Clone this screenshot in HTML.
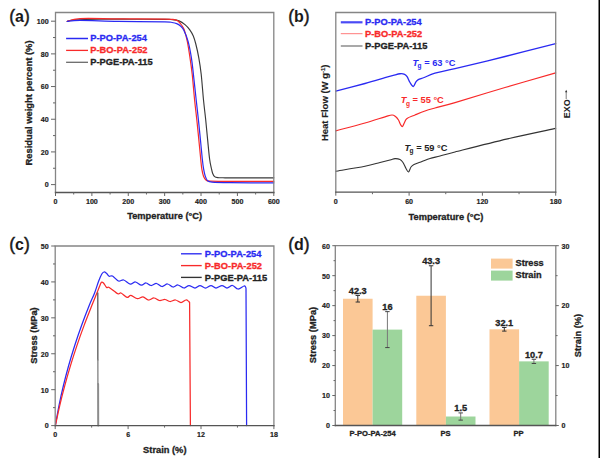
<!DOCTYPE html>
<html><head><meta charset="utf-8"><style>
html,body{margin:0;padding:0;background:#fff;}
svg{display:block;font-family:"Liberation Sans", sans-serif;}
#wrap{width:600px;height:458px;overflow:hidden;}
</style></head><body>
<div id="wrap">
<svg width="600" height="458" viewBox="0 0 600 458">
<rect width="600" height="458" fill="#fff"/>
<text x="9.20" y="21.60" font-size="17" fill="#1a1a1a"><tspan font-size="17.5" stroke="#1a1a1a" stroke-width="0.45">(</tspan><tspan font-weight="bold" font-size="16">a</tspan><tspan font-size="17.5" stroke="#1a1a1a" stroke-width="0.45">)</tspan></text>
<path d="M67.20,21.30 C68.50,21.05 69.53,20.15 75.00,19.80 C80.47,19.45 90.83,19.30 100.00,19.20 C109.17,19.10 119.17,19.17 130.00,19.20 C140.83,19.23 158.00,19.33 165.00,19.40 C172.00,19.47 169.67,19.35 172.00,19.60 C174.33,19.85 176.83,20.07 179.00,20.90 C181.17,21.73 183.20,23.12 185.00,24.60 C186.80,26.08 188.42,27.90 189.80,29.80 C191.18,31.70 192.30,33.63 193.30,36.00 C194.30,38.37 194.88,40.37 195.80,44.00 C196.72,47.63 197.90,52.77 198.80,57.80 C199.70,62.83 200.42,67.17 201.20,74.20 C201.98,81.23 202.75,92.42 203.50,100.00 C204.25,107.58 205.02,113.13 205.70,119.70 C206.38,126.27 206.95,132.85 207.60,139.40 C208.25,145.95 208.98,154.23 209.60,159.00 C210.22,163.77 210.80,165.63 211.30,168.00 C211.80,170.37 212.05,171.77 212.60,173.20 C213.15,174.63 213.70,175.87 214.60,176.60 C215.50,177.33 216.27,177.40 218.00,177.60 C219.73,177.80 215.70,177.77 225.00,177.80 C234.30,177.83 265.67,177.80 273.80,177.80" fill="none" stroke="#3a3a3a" stroke-width="1.15" stroke-linejoin="round" stroke-linecap="round" />
<path d="M67.20,21.30 C69.33,20.85 71.53,19.02 80.00,18.60 C88.47,18.18 103.83,18.72 118.00,18.80 C132.17,18.88 155.67,18.97 165.00,19.10 C174.33,19.23 171.83,19.28 174.00,19.60 C176.17,19.92 176.75,20.10 178.00,21.00 C179.25,21.90 180.45,23.50 181.50,25.00 C182.55,26.50 183.33,27.27 184.30,30.00 C185.27,32.73 186.35,36.77 187.30,41.40 C188.25,46.03 189.18,52.33 190.00,57.80 C190.82,63.27 191.43,67.17 192.20,74.20 C192.97,81.23 193.83,92.42 194.60,100.00 C195.37,107.58 196.10,113.13 196.80,119.70 C197.50,126.27 198.15,132.85 198.80,139.40 C199.45,145.95 200.20,154.08 200.70,159.00 C201.20,163.92 201.33,166.02 201.80,168.90 C202.27,171.78 202.80,174.45 203.50,176.30 C204.20,178.15 204.92,179.18 206.00,180.00 C207.08,180.82 206.00,180.98 210.00,181.20 C214.00,181.42 219.37,181.28 230.00,181.30 C240.63,181.32 266.50,181.30 273.80,181.30" fill="none" stroke="#f82a2a" stroke-width="1.20" stroke-linejoin="round" stroke-linecap="round" />
<path d="M67.20,21.30 C69.33,21.15 71.53,20.40 80.00,20.40 C88.47,20.40 103.83,21.05 118.00,21.30 C132.17,21.55 156.00,21.70 165.00,21.90 C174.00,22.10 170.05,22.22 172.00,22.50 C173.95,22.78 175.28,23.02 176.70,23.60 C178.12,24.18 179.33,24.93 180.50,26.00 C181.67,27.07 182.43,27.43 183.70,30.00 C184.97,32.57 186.82,36.77 188.10,41.40 C189.38,46.03 190.52,52.33 191.40,57.80 C192.28,63.27 192.60,67.17 193.40,74.20 C194.20,81.23 195.37,92.42 196.20,100.00 C197.03,107.58 197.70,113.13 198.40,119.70 C199.10,126.27 199.75,132.85 200.40,139.40 C201.05,145.95 201.77,154.08 202.30,159.00 C202.83,163.92 203.12,166.07 203.60,168.90 C204.08,171.73 204.55,174.05 205.20,176.00 C205.85,177.95 206.37,179.57 207.50,180.60 C208.63,181.63 208.25,181.85 212.00,182.20 C215.75,182.55 219.70,182.60 230.00,182.70 C240.30,182.80 266.50,182.78 273.80,182.80" fill="none" stroke="#2a2af2" stroke-width="1.20" stroke-linejoin="round" stroke-linecap="round" />
<path d="M55.50,192.50 L55.50,12.50 L273.80,12.50 L273.80,192.50" fill="none" stroke="#858585" stroke-width="1.30" stroke-linecap="square"/>
<line x1="55.50" y1="192.50" x2="273.80" y2="192.50" stroke="#555" stroke-width="1.30" stroke-linecap="square"/>
<line x1="51.00" y1="184.60" x2="55.50" y2="184.60" stroke="#666666" stroke-width="1.00" />
<text x="48.60" y="187.46" font-size="8" text-anchor="end" font-weight="bold" fill="#222" stroke="#222" stroke-width="0.2" textLength="3.95" lengthAdjust="spacingAndGlyphs">0</text>
<line x1="51.00" y1="151.92" x2="55.50" y2="151.92" stroke="#666666" stroke-width="1.00" />
<text x="48.60" y="154.78" font-size="8" text-anchor="end" font-weight="bold" fill="#222" stroke="#222" stroke-width="0.2" textLength="7.90" lengthAdjust="spacingAndGlyphs">20</text>
<line x1="51.00" y1="119.24" x2="55.50" y2="119.24" stroke="#666666" stroke-width="1.00" />
<text x="48.60" y="122.10" font-size="8" text-anchor="end" font-weight="bold" fill="#222" stroke="#222" stroke-width="0.2" textLength="7.90" lengthAdjust="spacingAndGlyphs">40</text>
<line x1="51.00" y1="86.56" x2="55.50" y2="86.56" stroke="#666666" stroke-width="1.00" />
<text x="48.60" y="89.42" font-size="8" text-anchor="end" font-weight="bold" fill="#222" stroke="#222" stroke-width="0.2" textLength="7.90" lengthAdjust="spacingAndGlyphs">60</text>
<line x1="51.00" y1="53.88" x2="55.50" y2="53.88" stroke="#666666" stroke-width="1.00" />
<text x="48.60" y="56.74" font-size="8" text-anchor="end" font-weight="bold" fill="#222" stroke="#222" stroke-width="0.2" textLength="7.90" lengthAdjust="spacingAndGlyphs">80</text>
<line x1="51.00" y1="21.20" x2="55.50" y2="21.20" stroke="#666666" stroke-width="1.00" />
<text x="48.60" y="24.06" font-size="8" text-anchor="end" font-weight="bold" fill="#222" stroke="#222" stroke-width="0.2" textLength="11.84" lengthAdjust="spacingAndGlyphs">100</text>
<line x1="53.00" y1="168.26" x2="55.50" y2="168.26" stroke="#666666" stroke-width="1.00" />
<line x1="53.00" y1="135.58" x2="55.50" y2="135.58" stroke="#666666" stroke-width="1.00" />
<line x1="53.00" y1="102.90" x2="55.50" y2="102.90" stroke="#666666" stroke-width="1.00" />
<line x1="53.00" y1="70.22" x2="55.50" y2="70.22" stroke="#666666" stroke-width="1.00" />
<line x1="53.00" y1="37.54" x2="55.50" y2="37.54" stroke="#666666" stroke-width="1.00" />
<line x1="55.50" y1="192.50" x2="55.50" y2="196.00" stroke="#666666" stroke-width="1.00" />
<text x="55.50" y="204.36" font-size="8" text-anchor="middle" font-weight="bold" fill="#222" stroke="#222" stroke-width="0.2" textLength="3.95" lengthAdjust="spacingAndGlyphs">0</text>
<line x1="91.88" y1="192.50" x2="91.88" y2="196.00" stroke="#666666" stroke-width="1.00" />
<text x="91.88" y="204.36" font-size="8" text-anchor="middle" font-weight="bold" fill="#222" stroke="#222" stroke-width="0.2" textLength="11.84" lengthAdjust="spacingAndGlyphs">100</text>
<line x1="128.27" y1="192.50" x2="128.27" y2="196.00" stroke="#666666" stroke-width="1.00" />
<text x="128.27" y="204.36" font-size="8" text-anchor="middle" font-weight="bold" fill="#222" stroke="#222" stroke-width="0.2" textLength="11.84" lengthAdjust="spacingAndGlyphs">200</text>
<line x1="164.65" y1="192.50" x2="164.65" y2="196.00" stroke="#666666" stroke-width="1.00" />
<text x="164.65" y="204.36" font-size="8" text-anchor="middle" font-weight="bold" fill="#222" stroke="#222" stroke-width="0.2" textLength="11.84" lengthAdjust="spacingAndGlyphs">300</text>
<line x1="201.03" y1="192.50" x2="201.03" y2="196.00" stroke="#666666" stroke-width="1.00" />
<text x="201.03" y="204.36" font-size="8" text-anchor="middle" font-weight="bold" fill="#222" stroke="#222" stroke-width="0.2" textLength="11.84" lengthAdjust="spacingAndGlyphs">400</text>
<line x1="237.42" y1="192.50" x2="237.42" y2="196.00" stroke="#666666" stroke-width="1.00" />
<text x="237.42" y="204.36" font-size="8" text-anchor="middle" font-weight="bold" fill="#222" stroke="#222" stroke-width="0.2" textLength="11.84" lengthAdjust="spacingAndGlyphs">500</text>
<line x1="273.80" y1="192.50" x2="273.80" y2="196.00" stroke="#666666" stroke-width="1.00" />
<text x="273.80" y="204.36" font-size="8" text-anchor="middle" font-weight="bold" fill="#222" stroke="#222" stroke-width="0.2" textLength="11.84" lengthAdjust="spacingAndGlyphs">600</text>
<line x1="73.69" y1="192.50" x2="73.69" y2="194.50" stroke="#666666" stroke-width="1.00" />
<line x1="110.08" y1="192.50" x2="110.08" y2="194.50" stroke="#666666" stroke-width="1.00" />
<line x1="146.46" y1="192.50" x2="146.46" y2="194.50" stroke="#666666" stroke-width="1.00" />
<line x1="182.84" y1="192.50" x2="182.84" y2="194.50" stroke="#666666" stroke-width="1.00" />
<line x1="219.22" y1="192.50" x2="219.22" y2="194.50" stroke="#666666" stroke-width="1.00" />
<line x1="255.61" y1="192.50" x2="255.61" y2="194.50" stroke="#666666" stroke-width="1.00" />
<text x="164.60" y="219.40" font-size="9.30" text-anchor="middle" font-weight="bold" fill="#222" stroke="#222" stroke-width="0.3" >Temperature (°C)</text>
<text x="0.00" y="0.00" font-size="9.40" text-anchor="middle" font-weight="bold" fill="#222" stroke="#222" stroke-width="0.3" transform="translate(32,103) rotate(-90)">Residual weight percent (%)</text>
<line x1="66.10" y1="38.50" x2="88.00" y2="38.50" stroke="#2a2af2" stroke-width="1.50" />
<text x="90.30" y="41.40" font-size="9.30" text-anchor="start" font-weight="bold" fill="#2a2af2" stroke="#2a2af2" stroke-width="0.3" >P-PO-PA-254</text>
<line x1="66.10" y1="50.40" x2="88.00" y2="50.40" stroke="#f82a2a" stroke-width="1.30" />
<text x="90.30" y="53.30" font-size="9.30" text-anchor="start" font-weight="bold" fill="#f82a2a" stroke="#f82a2a" stroke-width="0.3" >P-BO-PA-252</text>
<line x1="66.10" y1="62.30" x2="88.00" y2="62.30" stroke="#6a6a6a" stroke-width="1.30" />
<text x="90.30" y="65.20" font-size="9.30" text-anchor="start" font-weight="bold" fill="#222" stroke="#222" stroke-width="0.3" >P-PGE-PA-115</text>
<text x="288.20" y="21.60" font-size="17" fill="#1a1a1a"><tspan font-size="17.5" stroke="#1a1a1a" stroke-width="0.45">(</tspan><tspan font-weight="bold" font-size="16">b</tspan><tspan font-size="17.5" stroke="#1a1a1a" stroke-width="0.45">)</tspan></text>
<path d="M335.80,91.20 C340.67,89.92 356.80,85.75 365.00,83.50 C373.20,81.25 380.28,79.05 385.00,77.70 C389.72,76.35 390.80,76.06 393.30,75.40 C395.80,74.74 398.12,73.93 400.00,73.75 C401.88,73.57 403.42,73.81 404.60,74.30 C405.78,74.79 406.20,75.33 407.10,76.70 C408.00,78.07 408.97,80.87 410.00,82.50 C411.03,84.13 412.33,86.57 413.30,86.50 C414.27,86.43 414.97,83.25 415.80,82.10 C416.63,80.95 416.90,80.37 418.30,79.60 C419.70,78.83 421.42,78.57 424.20,77.50 C426.98,76.43 429.87,74.67 435.00,73.20 C440.13,71.73 443.33,71.48 455.00,68.70 C466.67,65.92 488.22,60.67 505.00,56.50 C521.78,52.33 547.25,45.83 555.70,43.70" fill="none" stroke="#2a2af2" stroke-width="1.30" stroke-linejoin="round" stroke-linecap="round" />
<path d="M335.80,130.80 C340.67,129.50 356.80,125.33 365.00,123.00 C373.20,120.67 380.50,118.13 385.00,116.80 C389.50,115.47 390.25,115.05 392.00,115.00 C393.75,114.95 394.42,115.67 395.50,116.50 C396.58,117.33 397.67,118.67 398.50,120.00 C399.33,121.33 399.83,123.42 400.50,124.50 C401.17,125.58 401.83,126.83 402.50,126.50 C403.17,126.17 403.75,123.83 404.50,122.50 C405.25,121.17 405.25,119.75 407.00,118.50 C408.75,117.25 412.00,116.25 415.00,115.00 C418.00,113.75 421.67,112.17 425.00,111.00 C428.33,109.83 430.00,109.40 435.00,108.00 C440.00,106.60 443.33,106.02 455.00,102.60 C466.67,99.18 488.22,92.45 505.00,87.50 C521.78,82.55 547.25,75.33 555.70,72.90" fill="none" stroke="#f82a2a" stroke-width="1.20" stroke-linejoin="round" stroke-linecap="round" />
<path d="M335.80,171.20 C340.67,170.38 357.63,167.75 365.00,166.30 C372.37,164.85 375.83,163.55 380.00,162.50 C384.17,161.45 387.50,160.65 390.00,160.00 C392.50,159.35 393.33,158.68 395.00,158.60 C396.67,158.52 398.67,158.85 400.00,159.50 C401.33,160.15 402.00,161.00 403.00,162.50 C404.00,164.00 405.08,166.92 406.00,168.50 C406.92,170.08 407.67,172.25 408.50,172.00 C409.33,171.75 410.08,168.25 411.00,167.00 C411.92,165.75 412.17,165.42 414.00,164.50 C415.83,163.58 419.33,162.50 422.00,161.50 C424.67,160.50 427.00,159.42 430.00,158.50 C433.00,157.58 435.83,157.08 440.00,156.00 C444.17,154.92 443.75,154.85 455.00,152.00 C466.25,149.15 490.72,142.83 507.50,138.90 C524.28,134.97 547.67,130.15 555.70,128.40" fill="none" stroke="#333333" stroke-width="1.10" stroke-linejoin="round" stroke-linecap="round" />
<path d="M335.80,192.20 L335.80,12.50 L555.70,12.50 L555.70,192.20" fill="none" stroke="#858585" stroke-width="1.30" stroke-linecap="square"/>
<line x1="335.80" y1="192.20" x2="555.70" y2="192.20" stroke="#555" stroke-width="1.30" stroke-linecap="square"/>
<line x1="335.80" y1="192.20" x2="335.80" y2="195.70" stroke="#666666" stroke-width="1.00" />
<text x="335.80" y="204.46" font-size="8" text-anchor="middle" font-weight="bold" fill="#222" stroke="#222" stroke-width="0.2" textLength="3.95" lengthAdjust="spacingAndGlyphs">0</text>
<line x1="409.10" y1="192.20" x2="409.10" y2="195.70" stroke="#666666" stroke-width="1.00" />
<text x="409.10" y="204.46" font-size="8" text-anchor="middle" font-weight="bold" fill="#222" stroke="#222" stroke-width="0.2" textLength="7.90" lengthAdjust="spacingAndGlyphs">60</text>
<line x1="482.40" y1="192.20" x2="482.40" y2="195.70" stroke="#666666" stroke-width="1.00" />
<text x="482.40" y="204.46" font-size="8" text-anchor="middle" font-weight="bold" fill="#222" stroke="#222" stroke-width="0.2" textLength="11.84" lengthAdjust="spacingAndGlyphs">120</text>
<line x1="555.70" y1="192.20" x2="555.70" y2="195.70" stroke="#666666" stroke-width="1.00" />
<text x="555.70" y="204.46" font-size="8" text-anchor="middle" font-weight="bold" fill="#222" stroke="#222" stroke-width="0.2" textLength="11.84" lengthAdjust="spacingAndGlyphs">180</text>
<line x1="372.45" y1="192.20" x2="372.45" y2="194.20" stroke="#666666" stroke-width="1.00" />
<line x1="445.75" y1="192.20" x2="445.75" y2="194.20" stroke="#666666" stroke-width="1.00" />
<line x1="519.05" y1="192.20" x2="519.05" y2="194.20" stroke="#666666" stroke-width="1.00" />
<text x="445.90" y="219.60" font-size="9.30" text-anchor="middle" font-weight="bold" fill="#222" stroke="#222" stroke-width="0.3" >Temperature (°C)</text>
<text transform="translate(328.2,102.8) rotate(-90)" font-size="9.5" text-anchor="middle" font-weight="bold" fill="#222" stroke="#222" stroke-width="0.15">Heat Flow (W g<tspan font-size="6" dy="-3.5">-1</tspan><tspan dy="3.5">)</tspan></text>
<text transform="translate(569.5,118.3) rotate(-90)" font-size="9" text-anchor="start" font-weight="bold" fill="#222">EXO</text>
<line x1="566.20" y1="99.00" x2="566.20" y2="91.00" stroke="#444" stroke-width="0.70" />
<path d="M565.1,92.2 L566.2,89.8 L567.3,92.2 Z" fill="#333"/>
<line x1="340.80" y1="22.30" x2="362.50" y2="22.30" stroke="#4a4af5" stroke-width="2.20" />
<text x="365.00" y="25.00" font-size="9.30" text-anchor="start" font-weight="bold" fill="#2a2af2" stroke="#2a2af2" stroke-width="0.3" >P-PO-PA-254</text>
<line x1="340.80" y1="33.70" x2="362.50" y2="33.70" stroke="#ff7a7a" stroke-width="1.00" />
<text x="365.00" y="37.05" font-size="9.30" text-anchor="start" font-weight="bold" fill="#f82a2a" stroke="#f82a2a" stroke-width="0.3" >P-BO-PA-252</text>
<line x1="340.80" y1="46.00" x2="362.50" y2="46.00" stroke="#7a7a7a" stroke-width="1.30" />
<text x="365.00" y="49.10" font-size="9.30" text-anchor="start" font-weight="bold" fill="#222" stroke="#222" stroke-width="0.3" >P-PGE-PA-115</text>
<text x="412.50" y="65.50" font-size="9.30" font-weight="bold" fill="#2a2af2"><tspan font-style="italic">T</tspan><tspan font-size="6.5" dx="-0.6" dy="2.4">g</tspan><tspan dy="-2.4"> = 63 °C</tspan></text>
<text x="400.80" y="103.20" font-size="9.30" font-weight="bold" fill="#f82a2a"><tspan font-style="italic">T</tspan><tspan font-size="6.5" dx="-0.6" dy="2.4">g</tspan><tspan dy="-2.4"> = 55 °C</tspan></text>
<text x="404.50" y="150.60" font-size="9.30" font-weight="bold" fill="#222"><tspan font-style="italic">T</tspan><tspan font-size="6.5" dx="-0.6" dy="2.4">g</tspan><tspan dy="-2.4"> = 59 °C</tspan></text>
<text x="9.20" y="250.10" font-size="17" fill="#1a1a1a"><tspan font-size="17.5" stroke="#1a1a1a" stroke-width="0.45">(</tspan><tspan font-weight="bold" font-size="16">c</tspan><tspan font-size="17.5" stroke="#1a1a1a" stroke-width="0.45">)</tspan></text>
<path d="M55.35,425.50 C55.96,422.17 57.65,412.17 58.99,405.50 C60.34,398.83 61.82,392.17 63.44,385.50 C65.05,378.83 66.80,372.17 68.68,365.50 C70.56,358.83 72.57,352.17 74.72,345.50 C76.87,338.83 79.15,332.17 81.56,325.50 C83.97,318.83 87.03,310.92 89.20,305.50 C91.37,300.08 93.05,297.00 94.60,293.00 C96.15,289.00 97.30,284.67 98.50,281.50 C99.70,278.33 100.88,275.58 101.80,274.00 C102.72,272.42 103.22,272.12 104.00,272.00 C104.78,271.88 105.63,272.60 106.50,273.30 C107.37,274.00 108.20,275.75 109.20,276.20 C110.20,276.65 110.97,275.20 112.50,276.00 C114.03,276.80 116.53,280.33 118.40,281.00 C120.27,281.67 121.73,279.47 123.70,280.00 C125.67,280.53 128.23,283.87 130.20,284.20 C132.17,284.53 133.63,281.83 135.50,282.00 C137.37,282.17 139.65,285.03 141.40,285.20 C143.15,285.37 144.40,282.95 146.00,283.00 C147.60,283.05 149.25,285.42 151.00,285.50 C152.75,285.58 154.67,283.33 156.50,283.50 C158.33,283.67 160.17,286.42 162.00,286.50 C163.83,286.58 165.67,283.92 167.50,284.00 C169.33,284.08 171.25,286.83 173.00,287.00 C174.75,287.17 176.17,284.83 178.00,285.00 C179.83,285.17 182.17,287.92 184.00,288.00 C185.83,288.08 187.17,285.50 189.00,285.50 C190.83,285.50 193.17,288.00 195.00,288.00 C196.83,288.00 198.25,285.50 200.00,285.50 C201.75,285.50 203.67,288.00 205.50,288.00 C207.33,288.00 209.25,285.50 211.00,285.50 C212.75,285.50 214.17,288.00 216.00,288.00 C217.83,288.00 220.17,285.50 222.00,285.50 C223.83,285.50 225.25,288.00 227.00,288.00 C228.75,288.00 230.67,285.33 232.50,285.50 C234.33,285.67 236.08,288.92 238.00,289.00 C239.92,289.08 242.70,286.25 244.00,286.00 C245.30,285.75 245.50,287.25 245.80,287.50 L246,288.5 L246.6,425.6" fill="none" stroke="#2a2af2" stroke-width="1.25" stroke-linejoin="round" stroke-linecap="round" />
<path d="M55.40,425.60 C56.12,422.27 58.17,412.27 59.73,405.60 C61.29,398.93 62.97,392.27 64.76,385.60 C66.55,378.93 68.46,372.27 70.48,365.60 C72.51,358.93 74.64,352.27 76.90,345.60 C79.15,338.93 81.52,332.27 84.01,325.60 C86.50,318.93 89.73,310.87 91.82,305.60 C93.90,300.33 95.22,297.18 96.50,294.00 C97.78,290.82 98.68,288.45 99.50,286.50 C100.32,284.55 100.73,282.88 101.40,282.30 C102.07,281.72 102.63,282.13 103.50,283.00 C104.37,283.87 105.65,286.75 106.60,287.50 C107.55,288.25 107.33,286.45 109.20,287.50 C111.07,288.55 115.83,292.88 117.80,293.80 C119.77,294.72 119.47,292.40 121.00,293.00 C122.53,293.60 125.35,297.00 127.00,297.40 C128.65,297.80 129.17,295.18 130.90,295.40 C132.63,295.62 135.38,298.47 137.40,298.70 C139.42,298.93 141.15,296.58 143.00,296.80 C144.85,297.02 146.67,299.80 148.50,300.00 C150.33,300.20 152.17,297.92 154.00,298.00 C155.83,298.08 157.67,300.25 159.50,300.50 C161.33,300.75 163.25,299.33 165.00,299.50 C166.75,299.67 168.25,301.42 170.00,301.50 C171.75,301.58 173.67,299.83 175.50,300.00 C177.33,300.17 179.25,302.50 181.00,302.50 C182.75,302.50 184.70,300.17 186.00,300.00 C187.30,299.83 188.33,301.25 188.80,301.50 L189.6,302.5 L190.4,425.6" fill="none" stroke="#f82a2a" stroke-width="1.25" stroke-linejoin="round" stroke-linecap="round" />
<path d="M97.8,293 L97.85,360" fill="none" stroke="#555555" stroke-width="1.30" stroke-linejoin="round" stroke-linecap="round" />
<path d="M97.85,360 L97.9,384" fill="none" stroke="#8a8a8a" stroke-width="1.40" stroke-linejoin="round" stroke-linecap="round" />
<path d="M98.1,384 L98.2,425.6" fill="none" stroke="#8c8c8c" stroke-width="2.00" stroke-linejoin="round" stroke-linecap="round" />
<path d="M55.20,425.60 L55.20,246.00 L273.90,246.00 L273.90,425.60" fill="none" stroke="#858585" stroke-width="1.30" stroke-linecap="square"/>
<line x1="55.20" y1="425.60" x2="273.90" y2="425.60" stroke="#555" stroke-width="1.30" stroke-linecap="square"/>
<line x1="51.20" y1="425.60" x2="55.20" y2="425.60" stroke="#666666" stroke-width="1.00" />
<text x="48.60" y="428.46" font-size="8" text-anchor="end" font-weight="bold" fill="#222" stroke="#222" stroke-width="0.2" textLength="3.95" lengthAdjust="spacingAndGlyphs">0</text>
<line x1="51.20" y1="389.68" x2="55.20" y2="389.68" stroke="#666666" stroke-width="1.00" />
<text x="48.60" y="392.54" font-size="8" text-anchor="end" font-weight="bold" fill="#222" stroke="#222" stroke-width="0.2" textLength="7.90" lengthAdjust="spacingAndGlyphs">10</text>
<line x1="51.20" y1="353.76" x2="55.20" y2="353.76" stroke="#666666" stroke-width="1.00" />
<text x="48.60" y="356.62" font-size="8" text-anchor="end" font-weight="bold" fill="#222" stroke="#222" stroke-width="0.2" textLength="7.90" lengthAdjust="spacingAndGlyphs">20</text>
<line x1="51.20" y1="317.84" x2="55.20" y2="317.84" stroke="#666666" stroke-width="1.00" />
<text x="48.60" y="320.70" font-size="8" text-anchor="end" font-weight="bold" fill="#222" stroke="#222" stroke-width="0.2" textLength="7.90" lengthAdjust="spacingAndGlyphs">30</text>
<line x1="51.20" y1="281.92" x2="55.20" y2="281.92" stroke="#666666" stroke-width="1.00" />
<text x="48.60" y="284.78" font-size="8" text-anchor="end" font-weight="bold" fill="#222" stroke="#222" stroke-width="0.2" textLength="7.90" lengthAdjust="spacingAndGlyphs">40</text>
<line x1="51.20" y1="246.00" x2="55.20" y2="246.00" stroke="#666666" stroke-width="1.00" />
<text x="48.60" y="248.86" font-size="8" text-anchor="end" font-weight="bold" fill="#222" stroke="#222" stroke-width="0.2" textLength="7.90" lengthAdjust="spacingAndGlyphs">50</text>
<line x1="53.00" y1="407.64" x2="55.20" y2="407.64" stroke="#666666" stroke-width="1.00" />
<line x1="53.00" y1="371.72" x2="55.20" y2="371.72" stroke="#666666" stroke-width="1.00" />
<line x1="53.00" y1="335.80" x2="55.20" y2="335.80" stroke="#666666" stroke-width="1.00" />
<line x1="53.00" y1="299.88" x2="55.20" y2="299.88" stroke="#666666" stroke-width="1.00" />
<line x1="53.00" y1="263.96" x2="55.20" y2="263.96" stroke="#666666" stroke-width="1.00" />
<line x1="55.20" y1="425.60" x2="55.20" y2="429.10" stroke="#666666" stroke-width="1.00" />
<text x="55.20" y="437.46" font-size="8" text-anchor="middle" font-weight="bold" fill="#222" stroke="#222" stroke-width="0.2" textLength="3.95" lengthAdjust="spacingAndGlyphs">0</text>
<line x1="128.10" y1="425.60" x2="128.10" y2="429.10" stroke="#666666" stroke-width="1.00" />
<text x="128.10" y="437.46" font-size="8" text-anchor="middle" font-weight="bold" fill="#222" stroke="#222" stroke-width="0.2" textLength="3.95" lengthAdjust="spacingAndGlyphs">6</text>
<line x1="201.00" y1="425.60" x2="201.00" y2="429.10" stroke="#666666" stroke-width="1.00" />
<text x="201.00" y="437.46" font-size="8" text-anchor="middle" font-weight="bold" fill="#222" stroke="#222" stroke-width="0.2" textLength="7.90" lengthAdjust="spacingAndGlyphs">12</text>
<line x1="273.90" y1="425.60" x2="273.90" y2="429.10" stroke="#666666" stroke-width="1.00" />
<text x="273.90" y="437.46" font-size="8" text-anchor="middle" font-weight="bold" fill="#222" stroke="#222" stroke-width="0.2" textLength="7.90" lengthAdjust="spacingAndGlyphs">18</text>
<line x1="91.65" y1="425.60" x2="91.65" y2="427.60" stroke="#666666" stroke-width="1.00" />
<line x1="164.55" y1="425.60" x2="164.55" y2="427.60" stroke="#666666" stroke-width="1.00" />
<line x1="237.45" y1="425.60" x2="237.45" y2="427.60" stroke="#666666" stroke-width="1.00" />
<text x="164.80" y="452.50" font-size="9.30" text-anchor="middle" font-weight="bold" fill="#222" stroke="#222" stroke-width="0.3" >Strain (%)</text>
<text x="0.00" y="0.00" font-size="9.30" text-anchor="middle" font-weight="bold" fill="#222" stroke="#222" stroke-width="0.3" transform="translate(36.8,335.5) rotate(-90)">Stress (MPa)</text>
<line x1="181.00" y1="253.80" x2="201.70" y2="253.80" stroke="#2a2af2" stroke-width="1.35" />
<text x="204.80" y="257.10" font-size="9.30" text-anchor="start" font-weight="bold" fill="#2a2af2" stroke="#2a2af2" stroke-width="0.3" >P-PO-PA-254</text>
<line x1="181.00" y1="265.60" x2="201.70" y2="265.60" stroke="#f82a2a" stroke-width="1.35" />
<text x="204.80" y="268.90" font-size="9.30" text-anchor="start" font-weight="bold" fill="#f82a2a" stroke="#f82a2a" stroke-width="0.3" >P-BO-PA-252</text>
<line x1="181.00" y1="277.40" x2="201.70" y2="277.40" stroke="#333333" stroke-width="1.35" />
<text x="204.80" y="280.70" font-size="9.30" text-anchor="start" font-weight="bold" fill="#222" stroke="#222" stroke-width="0.3" >P-PGE-PA-115</text>
<text x="288.20" y="250.10" font-size="17" fill="#1a1a1a"><tspan font-size="17.5" stroke="#1a1a1a" stroke-width="0.45">(</tspan><tspan font-weight="bold" font-size="16">d</tspan><tspan font-size="17.5" stroke="#1a1a1a" stroke-width="0.45">)</tspan></text>
<rect x="343.00" y="298.74" width="29.60" height="126.76" fill="#fbc896"/>
<rect x="372.60" y="329.61" width="29.60" height="95.89" fill="#9dd59c"/>
<rect x="416.30" y="295.74" width="29.60" height="129.76" fill="#fbc896"/>
<rect x="445.90" y="416.51" width="29.60" height="8.99" fill="#9dd59c"/>
<rect x="489.50" y="329.31" width="29.60" height="96.19" fill="#fbc896"/>
<rect x="519.10" y="361.37" width="29.60" height="64.13" fill="#9dd59c"/>
<line x1="357.80" y1="295.44" x2="357.80" y2="302.04" stroke="#333" stroke-width="1.00" />
<line x1="355.60" y1="295.44" x2="360.00" y2="295.44" stroke="#333" stroke-width="1.00" />
<line x1="355.60" y1="302.04" x2="360.00" y2="302.04" stroke="#333" stroke-width="1.00" />
<text x="357.80" y="293.64" font-size="9.20" text-anchor="middle" font-weight="bold" fill="#222" stroke="#222" stroke-width="0.3" >42.3</text>
<line x1="387.40" y1="311.63" x2="387.40" y2="347.59" stroke="#777" stroke-width="1.00" />
<line x1="385.20" y1="311.63" x2="389.60" y2="311.63" stroke="#444" stroke-width="1.00" />
<line x1="385.20" y1="347.59" x2="389.60" y2="347.59" stroke="#444" stroke-width="1.00" />
<text x="387.40" y="310.13" font-size="9.20" text-anchor="middle" font-weight="bold" fill="#222" stroke="#222" stroke-width="0.3" >16</text>
<line x1="431.10" y1="265.78" x2="431.10" y2="325.71" stroke="#333" stroke-width="1.00" />
<line x1="428.90" y1="265.78" x2="433.30" y2="265.78" stroke="#333" stroke-width="1.00" />
<line x1="428.90" y1="325.71" x2="433.30" y2="325.71" stroke="#333" stroke-width="1.00" />
<text x="431.10" y="263.98" font-size="9.20" text-anchor="middle" font-weight="bold" fill="#222" stroke="#222" stroke-width="0.3" >43.3</text>
<line x1="460.70" y1="412.91" x2="460.70" y2="420.11" stroke="#777" stroke-width="1.00" />
<line x1="458.50" y1="412.91" x2="462.90" y2="412.91" stroke="#444" stroke-width="1.00" />
<line x1="458.50" y1="420.11" x2="462.90" y2="420.11" stroke="#444" stroke-width="1.00" />
<text x="460.70" y="411.41" font-size="9.20" text-anchor="middle" font-weight="bold" fill="#222" stroke="#222" stroke-width="0.3" >1.5</text>
<line x1="504.30" y1="327.51" x2="504.30" y2="331.11" stroke="#333" stroke-width="1.00" />
<line x1="502.10" y1="327.51" x2="506.50" y2="327.51" stroke="#333" stroke-width="1.00" />
<line x1="502.10" y1="331.11" x2="506.50" y2="331.11" stroke="#333" stroke-width="1.00" />
<text x="504.30" y="325.71" font-size="9.20" text-anchor="middle" font-weight="bold" fill="#222" stroke="#222" stroke-width="0.3" >32.1</text>
<line x1="533.90" y1="359.27" x2="533.90" y2="363.47" stroke="#777" stroke-width="1.00" />
<line x1="531.70" y1="359.27" x2="536.10" y2="359.27" stroke="#444" stroke-width="1.00" />
<line x1="531.70" y1="363.47" x2="536.10" y2="363.47" stroke="#444" stroke-width="1.00" />
<text x="533.90" y="357.77" font-size="9.20" text-anchor="middle" font-weight="bold" fill="#222" stroke="#222" stroke-width="0.3" >10.7</text>
<path d="M335.30,425.50 L335.30,245.70 L555.80,245.70 L555.80,425.50" fill="none" stroke="#858585" stroke-width="1.30" stroke-linecap="square"/>
<line x1="335.30" y1="425.50" x2="555.80" y2="425.50" stroke="#555" stroke-width="1.30" stroke-linecap="square"/>
<line x1="332.30" y1="425.50" x2="335.30" y2="425.50" stroke="#666666" stroke-width="1.00" />
<text x="330.00" y="428.36" font-size="8" text-anchor="end" font-weight="bold" fill="#222" stroke="#222" stroke-width="0.2" textLength="3.95" lengthAdjust="spacingAndGlyphs">0</text>
<line x1="332.30" y1="395.53" x2="335.30" y2="395.53" stroke="#666666" stroke-width="1.00" />
<text x="330.00" y="398.39" font-size="8" text-anchor="end" font-weight="bold" fill="#222" stroke="#222" stroke-width="0.2" textLength="7.90" lengthAdjust="spacingAndGlyphs">10</text>
<line x1="332.30" y1="365.57" x2="335.30" y2="365.57" stroke="#666666" stroke-width="1.00" />
<text x="330.00" y="368.43" font-size="8" text-anchor="end" font-weight="bold" fill="#222" stroke="#222" stroke-width="0.2" textLength="7.90" lengthAdjust="spacingAndGlyphs">20</text>
<line x1="332.30" y1="335.60" x2="335.30" y2="335.60" stroke="#666666" stroke-width="1.00" />
<text x="330.00" y="338.46" font-size="8" text-anchor="end" font-weight="bold" fill="#222" stroke="#222" stroke-width="0.2" textLength="7.90" lengthAdjust="spacingAndGlyphs">30</text>
<line x1="332.30" y1="305.63" x2="335.30" y2="305.63" stroke="#666666" stroke-width="1.00" />
<text x="330.00" y="308.49" font-size="8" text-anchor="end" font-weight="bold" fill="#222" stroke="#222" stroke-width="0.2" textLength="7.90" lengthAdjust="spacingAndGlyphs">40</text>
<line x1="332.30" y1="275.67" x2="335.30" y2="275.67" stroke="#666666" stroke-width="1.00" />
<text x="330.00" y="278.53" font-size="8" text-anchor="end" font-weight="bold" fill="#222" stroke="#222" stroke-width="0.2" textLength="7.90" lengthAdjust="spacingAndGlyphs">50</text>
<line x1="332.30" y1="245.70" x2="335.30" y2="245.70" stroke="#666666" stroke-width="1.00" />
<text x="330.00" y="248.56" font-size="8" text-anchor="end" font-weight="bold" fill="#222" stroke="#222" stroke-width="0.2" textLength="7.90" lengthAdjust="spacingAndGlyphs">60</text>
<line x1="333.50" y1="410.52" x2="335.30" y2="410.52" stroke="#666666" stroke-width="1.00" />
<line x1="333.50" y1="380.55" x2="335.30" y2="380.55" stroke="#666666" stroke-width="1.00" />
<line x1="333.50" y1="350.58" x2="335.30" y2="350.58" stroke="#666666" stroke-width="1.00" />
<line x1="333.50" y1="320.62" x2="335.30" y2="320.62" stroke="#666666" stroke-width="1.00" />
<line x1="333.50" y1="290.65" x2="335.30" y2="290.65" stroke="#666666" stroke-width="1.00" />
<line x1="333.50" y1="260.68" x2="335.30" y2="260.68" stroke="#666666" stroke-width="1.00" />
<line x1="555.80" y1="425.50" x2="558.80" y2="425.50" stroke="#666666" stroke-width="1.00" />
<text x="561.50" y="428.36" font-size="8" text-anchor="start" font-weight="bold" fill="#222" stroke="#222" stroke-width="0.2" textLength="3.95" lengthAdjust="spacingAndGlyphs">0</text>
<line x1="555.80" y1="365.57" x2="558.80" y2="365.57" stroke="#666666" stroke-width="1.00" />
<text x="561.50" y="368.43" font-size="8" text-anchor="start" font-weight="bold" fill="#222" stroke="#222" stroke-width="0.2" textLength="7.90" lengthAdjust="spacingAndGlyphs">10</text>
<line x1="555.80" y1="305.63" x2="558.80" y2="305.63" stroke="#666666" stroke-width="1.00" />
<text x="561.50" y="308.49" font-size="8" text-anchor="start" font-weight="bold" fill="#222" stroke="#222" stroke-width="0.2" textLength="7.90" lengthAdjust="spacingAndGlyphs">20</text>
<line x1="555.80" y1="245.70" x2="558.80" y2="245.70" stroke="#666666" stroke-width="1.00" />
<text x="561.50" y="248.56" font-size="8" text-anchor="start" font-weight="bold" fill="#222" stroke="#222" stroke-width="0.2" textLength="7.90" lengthAdjust="spacingAndGlyphs">30</text>
<line x1="555.80" y1="395.53" x2="557.60" y2="395.53" stroke="#666666" stroke-width="1.00" />
<line x1="555.80" y1="335.60" x2="557.60" y2="335.60" stroke="#666666" stroke-width="1.00" />
<line x1="555.80" y1="275.67" x2="557.60" y2="275.67" stroke="#666666" stroke-width="1.00" />
<text x="372.60" y="436.00" font-size="7.60" text-anchor="middle" font-weight="bold" fill="#222" stroke="#222" stroke-width="0.3" >P-PO-PA-254</text>
<text x="445.55" y="436.00" font-size="7.60" text-anchor="middle" font-weight="bold" fill="#222" stroke="#222" stroke-width="0.3" >PS</text>
<text x="518.50" y="436.00" font-size="7.60" text-anchor="middle" font-weight="bold" fill="#222" stroke="#222" stroke-width="0.3" >PP</text>
<text x="0.00" y="0.00" font-size="9.30" text-anchor="middle" font-weight="bold" fill="#222" stroke="#222" stroke-width="0.3" transform="translate(316.2,335) rotate(-90)">Stress (MPa)</text>
<text x="0.00" y="0.00" font-size="9.30" text-anchor="middle" font-weight="bold" fill="#222" stroke="#222" stroke-width="0.3" transform="translate(581.3,335.5) rotate(-90)">Strain (%)</text>
<rect x="491" y="258.6" width="21.6" height="10" fill="#fbc896"/>
<rect x="491" y="270.6" width="21.6" height="10" fill="#9dd59c"/>
<text x="515.60" y="266.10" font-size="9.20" text-anchor="start" font-weight="bold" fill="#222" stroke="#222" stroke-width="0.3" >Stress</text>
<text x="515.60" y="278.10" font-size="9.20" text-anchor="start" font-weight="bold" fill="#222" stroke="#222" stroke-width="0.3" >Strain</text>
<rect x="598.5" y="0" width="1.5" height="458" fill="#000"/>
</svg>
</div>
</body></html>
